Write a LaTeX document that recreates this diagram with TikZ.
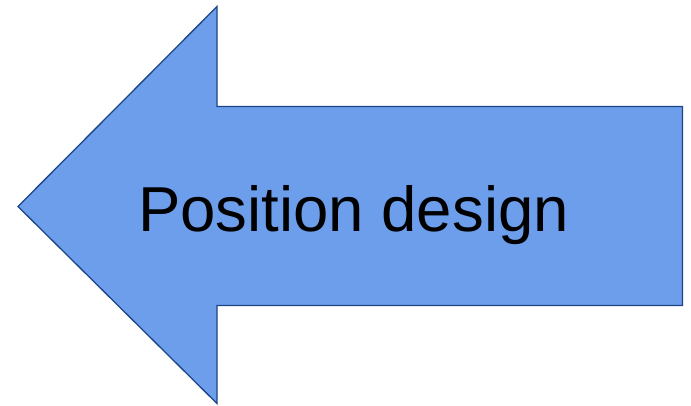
\documentclass[tikz,border=0pt]{standalone}
\usepackage{fontspec}
\setmainfont{Liberation Sans}
\definecolor{arrowfill}{HTML}{6D9EEB}
\definecolor{arrowline}{HTML}{1C4587}
\begin{document}
\begin{tikzpicture}[x=1pt,y=-1pt,
  bigarrow/.style={fill=arrowfill,draw=arrowline,line width=1.3pt,line join=miter},
  caption/.style={font=\fontsize{63.5}{68}\selectfont,text=black,inner sep=0pt,anchor=base west}]
\useasboundingbox (0,0) rectangle (691,405);
\draw[bigarrow] (18,206.5) -- (217,6.5) -- (217,106.5) -- (682.5,106.5)
  -- (682.5,305.5) -- (217,305.5) -- (217,403.5) -- cycle;
\node[caption] (label) at (138,231) {Position design};
\end{tikzpicture}
\end{document}
